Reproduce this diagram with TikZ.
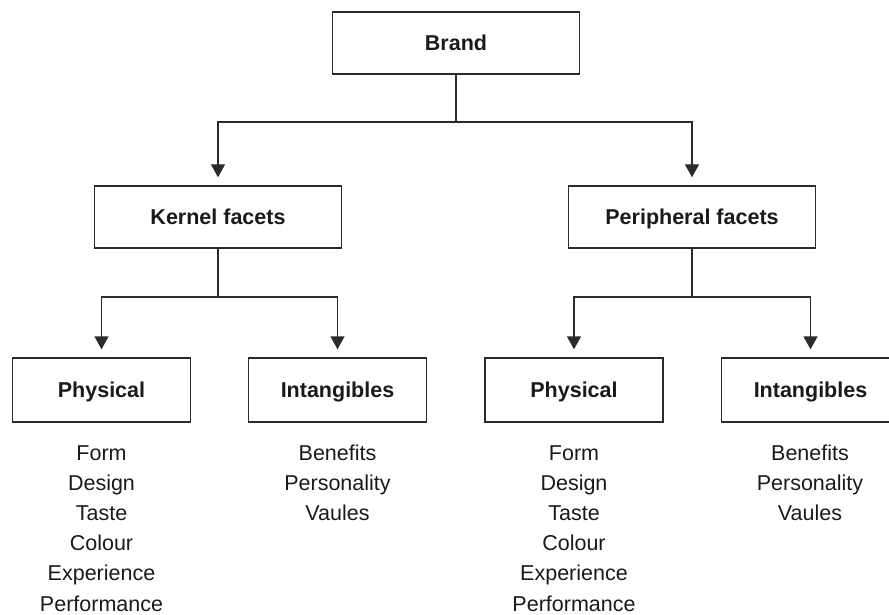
\documentclass[tikz,border=0pt]{standalone}
\usepackage{fontspec}
\setmainfont{Liberation Sans}
\usetikzlibrary{arrows.meta}
\definecolor{ink}{HTML}{2B2B2B}
\definecolor{txt}{HTML}{1A1A1A}

\begin{document}
\begin{tikzpicture}[x=1pt,y=-1pt,
  facet/.style={draw=ink, line width=1.4pt, minimum height=62pt, inner sep=0pt,
    font=\fontsize{21.5}{25}\selectfont\bfseries, text=txt,
    text height=15.4pt, text depth=0pt},
  wide/.style={facet, minimum width=247pt},
  narrow/.style={facet, minimum width=178pt, minimum height=64pt},
  item/.style={anchor=base, inner sep=0pt, font=\fontsize{21.5}{26}\selectfont, text=txt},
  link/.style={draw=ink, line width=1.4pt},
  feed/.style={link, -{Triangle[width=14pt,length=13pt]}, shorten >=8pt}]

  \useasboundingbox (0,0) rectangle (889,615);
  \clip (0,0) rectangle (889,615);

  % boxes
  \node[wide]   (brand)  at (456,43)    {Brand};
  \node[wide]   (kernel) at (218,217)   {Kernel facets};
  \node[wide]   (periph) at (692,217)   {Peripheral facets};
  \node[narrow] (kphys)  at (101.5,390) {Physical};
  \node[narrow] (kint)   at (337.5,390) {Intangibles};
  \node[narrow] (pphys)  at (574,390)   {Physical};
  \node[narrow] (pint)   at (810.5,390) {Intangibles};

  % branch points
  \coordinate (j0) at (456,122);
  \coordinate (j1) at (218,297);
  \coordinate (j2) at (692,297);

  % connectors
  \draw[link] (brand.south) -- (j0);
  \draw[feed] (j0) -| (kernel.north);
  \draw[feed] (j0) -| (periph.north);

  \draw[link] (kernel.south) -- (j1);
  \draw[feed] (j1) -| (kphys.north);
  \draw[feed] (j1) -| (kint.north);

  \draw[link] (periph.south) -- (j2);
  \draw[feed] (j2) -| (pphys.north);
  \draw[feed] (j2) -| (pint.north);

  % lists under the boxes
  \foreach \t [count=\i] in {Form,Design,Taste,Colour,Experience,Performance} {
    \node[item] (kp\i) at (101.5,{460+30.2*(\i-1)}) {\t};
    \node[item] (pp\i) at (574,{460+30.2*(\i-1)}) {\t};
  }
  \foreach \t [count=\i] in {Benefits,Personality,Vaules} {
    \node[item] (ki\i) at (337.5,{460+30.2*(\i-1)}) {\t};
    \node[item] (pi\i) at (810,{460+30.2*(\i-1)}) {\t};
  }
\end{tikzpicture}
\end{document}
